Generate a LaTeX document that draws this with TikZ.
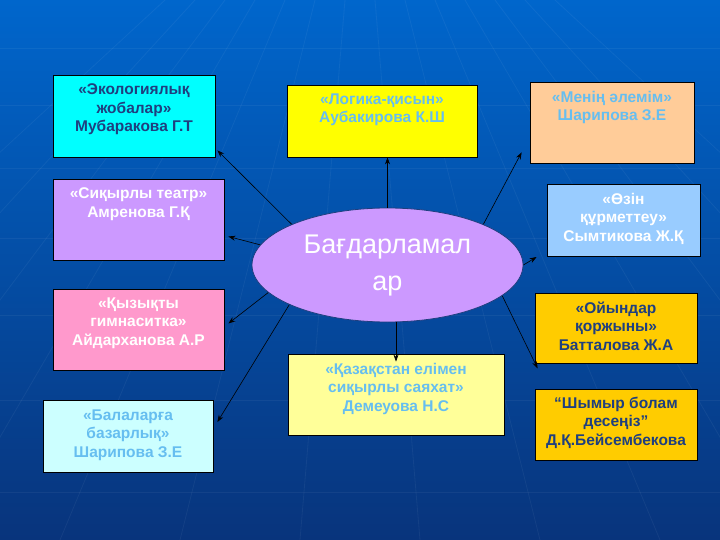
\documentclass[tikz,border=0pt]{standalone}
\usepackage{fontspec}
\setmainfont{Liberation Sans}
\usetikzlibrary{arrows.meta,shapes.geometric}
\definecolor{bgtop}{RGB}{0,102,204}
\definecolor{bgbot}{RGB}{8,52,124}
\definecolor{navytext}{RGB}{31,63,127}
\definecolor{ltblue}{RGB}{102,190,240}
\definecolor{boxcyan}{RGB}{0,255,255}
\definecolor{boxyellow}{RGB}{255,255,0}
\definecolor{boxpeach}{RGB}{255,204,153}
\definecolor{boxlilac}{RGB}{204,153,255}
\definecolor{boxsky}{RGB}{153,204,255}
\definecolor{boxpink}{RGB}{255,153,204}
\definecolor{boxlemon}{RGB}{255,255,153}
\definecolor{boxgold}{RGB}{255,204,0}
\definecolor{boxice}{RGB}{204,255,255}
\begin{document}
\begin{tikzpicture}[x=1pt,y=-1pt,
  box/.style={draw=black,line width=0.8pt,rectangle,inner sep=0pt},
  txt/.style={anchor=north,align=center,inner sep=0pt,
    font=\fontsize{15.5}{18.5}\selectfont\bfseries},
  arr/.style={draw=black,line width=0.6pt,-{Stealth[length=7pt,width=5pt]}},
  grid/.style={draw=white,opacity=0.05,line width=0.8pt}]
\useasboundingbox (0,0) rectangle (720,540);
\shade[top color=bgtop,bottom color=bgbot] (0,0) rectangle (720,540);
% faint perspective grid
\foreach \y in {48,105,168,238,315,400,492}
  \draw[grid] (0,\y) -- (720,\y);
\foreach \x in {-420,-300,-180,-60,60,180,300,420,540,660,780,900,1020,1140}
  \draw[grid] (360+0.25*\x-90,0) -- (\x,540);

% central ellipse
\node[ellipse,draw=navytext,line width=0.8pt,fill=boxlilac,
  minimum width=271,minimum height=114,inner sep=0pt] (c) at (387.5,265) {};
\node[align=center,text=white,inner sep=0pt,
  font=\fontsize{27}{37}\selectfont] (ct) at ([yshift=-1pt]c) {Бағдарламал\\ар};

% boxes
\node[box,fill=boxcyan,minimum width=162,minimum height=82] (b1) at (134,116) {};
\node[txt,text=navytext] (t1) at ([yshift=-9pt]b1.north)
  {«Экологиялық\\жобалар»\\Мубаракова Г.Т};

\node[box,fill=boxyellow,minimum width=190,minimum height=72] (b2) at (382,121) {};
\node[txt,text=ltblue] (t2) at ([yshift=-9pt]b2.north)
  {«Логика-қисын»\\Аубакирова К.Ш};

\node[box,fill=boxpeach,minimum width=164,minimum height=81] (b3) at (612,122.5) {};
\node[txt,text=ltblue] (t3) at ([yshift=-9pt]b3.north)
  {«Менің әлемім»\\Шарипова З.Е};

\node[box,fill=boxlilac,minimum width=171,minimum height=81] (b4) at (138.5,219.5) {};
\node[txt,text=white] (t4) at ([yshift=-9pt]b4.north)
  {«Сиқырлы театр»\\Амренова Г.Қ};

\node[box,fill=boxsky,minimum width=153,minimum height=72] (b6) at (623.5,220) {};
\node[txt,text=white] (t6) at ([yshift=-9pt]b6.north)
  {«Өзін\\құрметтеу»\\Сымтикова Ж.Қ};

\node[box,fill=boxpink,minimum width=171,minimum height=81] (b7) at (138.5,329.5) {};
\node[txt,text=white] (t7) at ([yshift=-9pt]b7.north)
  {«Қызықты\\гимнаситка»\\Айдарханова А.Р};

\node[box,fill=boxlemon,minimum width=216,minimum height=81] (b8) at (396,394.5) {};
\node[txt,text=ltblue] (t8) at ([yshift=-9pt]b8.north)
  {«Қазақстан елімен\\сиқырлы саяхат»\\Демеуова Н.С};

\node[box,fill=boxgold,minimum width=162,minimum height=70] (b9) at (616,328) {};
\node[txt,text=navytext] (t9) at ([yshift=-9pt]b9.north)
  {«Ойындар\\қоржыны»\\Батталова Ж.А};

\node[box,fill=boxice,minimum width=170,minimum height=72] (b10) at (128,436) {};
\node[txt,text=ltblue] (t10) at ([yshift=-10pt]b10.north)
  {«Балаларға\\базарлық»\\Шарипова З.Е};

\node[box,fill=boxgold,minimum width=162,minimum height=71] (b11) at (616,424.5) {};
\node[txt,text=navytext] (t11) at ([yshift=-8pt]b11.north)
  {“Шымыр болам\\десеңіз”\\Д.Қ.Бейсембекова};

% connectors
\draw[arr] (c.157) -- ([shift={(2,-7)}]b1.south east);
\draw[arr] (c.north) -- (c.north |- b2.south);
\draw[arr] (c.23) -- ([shift={(-8,-11)}]b3.south west);
\draw[arr] (c.171) -- ([shift={(4,17)}]b4.east);
\draw[arr] (c.east) -- ([shift={(-10,37)}]b6.west);
\draw[arr] (c.193) -- ([shift={(4,-6)}]b7.east);
\draw[arr] (c.south -| b8.north) -- ([yshift=-8pt]b8.north);
\draw[arr] (c.345) -- ([shift={(3,5)}]b9.south west);
\draw[arr] (c.202) -- ([shift={(4,-14)}]b10.east);
\end{tikzpicture}
\end{document}
